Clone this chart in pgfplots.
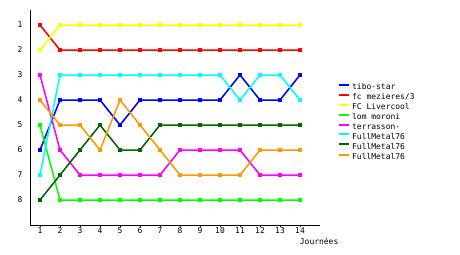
\documentclass[border=0pt]{standalone}
\usepackage{pgfplots}
\pgfplotsset{compat=1.18}
\usepackage{fontspec}
\setmainfont{DejaVu Sans Mono}
\definecolor{cblue}{RGB}{0,0,255}
\definecolor{cred}{RGB}{255,0,0}
\definecolor{cyel}{RGB}{255,255,0}
\definecolor{cgreen}{RGB}{0,255,0}
\definecolor{cmag}{RGB}{255,0,255}
\definecolor{ccyan}{RGB}{0,255,255}
\definecolor{cdgreen}{RGB}{0,102,0}
\definecolor{corange}{RGB}{255,153,0}
\begin{document}
\begin{tikzpicture}
\useasboundingbox (0,0) rectangle (460bp,255bp);
\begin{axis}[
  at={(30bp,30bp)}, anchor=south west,
  scale only axis, width=290bp, height=215bp,
  xmin=0.5, xmax=15, ymin=0.4, ymax=9,
  y dir=reverse,
  axis x line*=bottom, axis y line*=left,
  axis line style={-, line width=1bp, black},
  xtick={1,...,14}, ytick={1,...,8},
  x tick style={black, line width=0.8bp}, major tick length=2bp,
  xtick pos=bottom,
  tick align=outside,
  y tick style={draw=none},
  /pgf/number format/assume math mode=true,
  tick label style={font=\fontsize{8}{9}\selectfont},
  xticklabel style={yshift=2.5bp},
  yticklabel style={xshift=-2bp},
  xlabel={Journées},
  xlabel style={font=\fontsize{8}{9}\selectfont, at={(axis description cs:0.997,-0.075)}, anchor=center},
  clip=false,
  every axis plot/.append style={line width=1.5bp, mark=square*, mark size=1bp},
  legend cell align=left,
  legend style={at={(1.062,0.665)}, anchor=north west, draw=none, fill=none,
    font=\fontsize{8}{9}\selectfont, row sep=0.5bp, inner sep=0pt,
    nodes={inner xsep=2bp, inner ysep=1bp}},
  legend image code/.code={\draw[#1, mark=none, line width=2bp] (0bp,2.5bp) -- (10bp,2.5bp);},
]
\addplot[cblue] coordinates {(1,6)(2,4)(3,4)(4,4)(5,5)(6,4)(7,4)(8,4)(9,4)(10,4)(11,3)(12,4)(13,4)(14,3)};
\addlegendentry{tibo-star}
\addplot[cred] coordinates {(1,1)(2,2)(3,2)(4,2)(5,2)(6,2)(7,2)(8,2)(9,2)(10,2)(11,2)(12,2)(13,2)(14,2)};
\addlegendentry{fc mezieres/3}
\addplot[cyel] coordinates {(1,2)(2,1)(3,1)(4,1)(5,1)(6,1)(7,1)(8,1)(9,1)(10,1)(11,1)(12,1)(13,1)(14,1)};
\addlegendentry{FC Livercool}
\addplot[cgreen] coordinates {(1,5)(2,8)(3,8)(4,8)(5,8)(6,8)(7,8)(8,8)(9,8)(10,8)(11,8)(12,8)(13,8)(14,8)};
\addlegendentry{lom moroni}
\addplot[cmag] coordinates {(1,3)(2,6)(3,7)(4,7)(5,7)(6,7)(7,7)(8,6)(9,6)(10,6)(11,6)(12,7)(13,7)(14,7)};
\addlegendentry{terrasson-}
\addplot[ccyan] coordinates {(1,7)(2,3)(3,3)(4,3)(5,3)(6,3)(7,3)(8,3)(9,3)(10,3)(11,4)(12,3)(13,3)(14,4)};
\addlegendentry{FullMetal76}
\addplot[cdgreen] coordinates {(1,8)(2,7)(3,6)(4,5)(5,6)(6,6)(7,5)(8,5)(9,5)(10,5)(11,5)(12,5)(13,5)(14,5)};
\addlegendentry{FullMetal76}
\addplot[corange] coordinates {(1,4)(2,5)(3,5)(4,6)(5,4)(6,5)(7,6)(8,7)(9,7)(10,7)(11,7)(12,6)(13,6)(14,6)};
\addlegendentry{FullMetal76}
\end{axis}
\end{tikzpicture}
\end{document}
